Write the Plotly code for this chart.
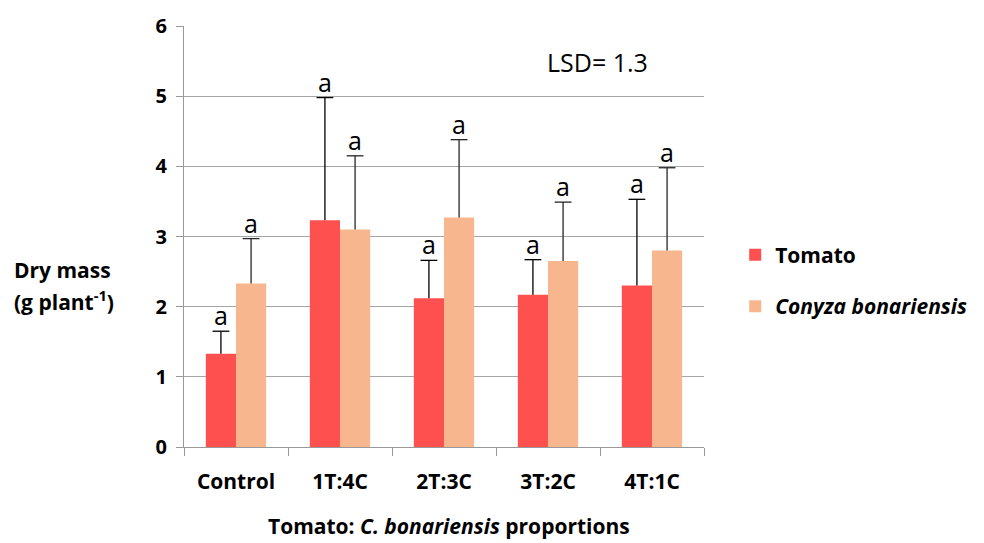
import plotly.graph_objects as go

# Treatment groups (Tomato : Conyza plant proportions)
categories = ["Control", "1T:4C", "2T:3C", "3T:2C", "4T:1C"]

# Mean dry mass (g per plant)
tomato_mean = [1.33, 3.23, 2.12, 2.17, 2.30]
conyza_mean = [2.33, 3.10, 3.27, 2.65, 2.80]

# Upper error (standard deviation) above each mean
tomato_err = [0.32, 1.75, 0.54, 0.50, 1.23]
conyza_err = [0.64, 1.05, 1.11, 0.84, 1.18]

# Significance letters
tomato_letters = ["a", "a", "a", "a", "a"]
conyza_letters = ["a", "a", "a", "a", "a"]

FONT = "Open Sans"
TOMATO_COLOR = "#FF5050"
CONYZA_COLOR = "#F8B68E"

fig = go.Figure()

series = [
    ("<b>Tomato</b>", "t", tomato_mean, tomato_err, tomato_letters,
     TOMATO_COLOR, "#000000", -15),
    ("<b><i>Conyza bonariensis</i></b>", "c", conyza_mean, conyza_err,
     conyza_letters, CONYZA_COLOR, "#262626", 15),
]

for name, grp, means, errs, letters, color, ecolor, dx in series:
    fig.add_trace(go.Bar(
        x=categories, y=means, name=name,
        marker=dict(color=color, line=dict(width=0)),
        offsetgroup=grp, legendgroup=grp,
    ))

annotations = []
for name, grp, means, errs, letters, color, ecolor, dx in series:
    # Upward-only error bar: stem from the bar top, cap only at the upper end
    tops = [m + e for m, e in zip(means, errs)]
    fig.add_trace(go.Scatter(
        x=categories, y=tops, mode="markers",
        marker=dict(symbol="line-ew", size=12,
                    line=dict(width=1.3, color=ecolor), color=ecolor),
        error_y=dict(type="data", symmetric=False,
                     array=[0] * len(errs), arrayminus=errs,
                     color=ecolor, thickness=1.3, width=0),
        offsetgroup=grp, legendgroup=grp, showlegend=False,
        hoverinfo="skip",
    ))
    # Significance letter above each error bar
    for cat, top, letter in zip(categories, tops, letters):
        annotations.append(dict(
            x=cat, y=top, xref="x", yref="y", text=letter, showarrow=False,
            xshift=dx, yanchor="bottom", yshift=-3,
            font=dict(family=FONT, size=25, color="#000000"),
        ))

# Free-standing labels placed in pixel coordinates of the page
W, H = 984, 543
L, R, T, B = 184, 280, 22, 96
pw, ph = W - L - R, H - T - B


def px(x, y):
    return (x - L) / pw, (H - B - y) / ph


labels = [
    (597, 58, "LSD= 1.3", "center", 25),
    (12, 268, "<b>Dry mass</b>", "left", 21),
    (12, 299, "<b>(g plant<sup>-1</sup>)</b>", "left", 21),
    (449, 527, "<b>Tomato: <i>C. bonariensis</i> proportions</b>", "center", 21),
]
for x, y, text, xanchor, size in labels:
    ax, ay = px(x, y)
    annotations.append(dict(
        x=ax, y=ay, xref="paper", yref="paper", text=text, showarrow=False,
        xanchor=xanchor, yanchor="middle", align=xanchor,
        font=dict(family=FONT, color="#000000", size=size),
    ))

fig.update_layout(
    width=W, height=H,
    margin=dict(l=L, r=R, t=T, b=B),
    paper_bgcolor="white", plot_bgcolor="white",
    barmode="group", bargap=0.42, bargroupgap=0,
    scattermode="group", scattergap=0.42,
    font=dict(family=FONT, color="#000000"),
    annotations=annotations,
    legend=dict(
        x=1.06, y=0.395, xanchor="left", yanchor="middle",
        font=dict(family=FONT, size=21, color="#000000"),
        tracegroupgap=21, itemwidth=30, bgcolor="rgba(0,0,0,0)",
    ),
    xaxis=dict(
        showline=True, linecolor="#9A9A9A", linewidth=1.3,
        ticks="outside", tickson="boundaries", ticklen=8,
        tickcolor="#9A9A9A", tickwidth=1.3,
        tickfont=dict(family=FONT, size=21, color="#000000"),
        tickprefix="<b>", ticksuffix="</b>",
        ticklabelstandoff=16,
        showgrid=False,
    ),
    yaxis=dict(
        range=[0, 6], dtick=1,
        showline=True, linecolor="#9A9A9A", linewidth=1.3,
        ticks="outside", ticklen=7, tickcolor="#9A9A9A", tickwidth=1.3,
        showgrid=True, gridcolor="#A6A6A6", gridwidth=1,
        zeroline=False,
        tickfont=dict(family=FONT, size=20, color="#000000"),
        tickprefix="<b>", ticksuffix="</b>",
        ticklabelstandoff=5,
    ),
)

fig.write_html("out.html")
